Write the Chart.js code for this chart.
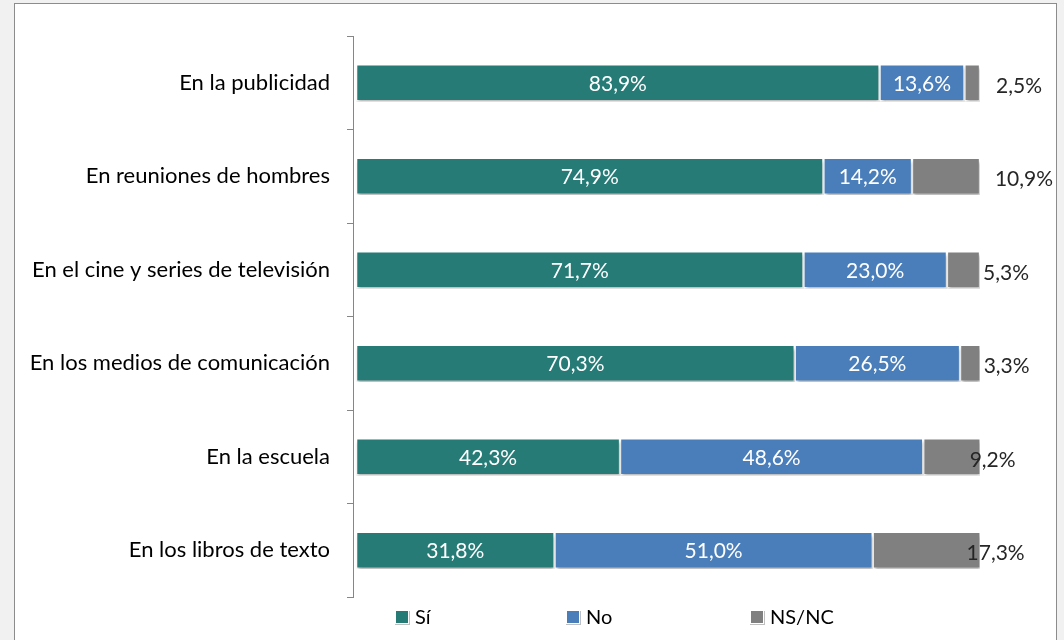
<!DOCTYPE html>
<html>
<head>
<meta charset="utf-8">
<script src="https://cdn.jsdelivr.net/npm/chart.js@4"></script>
<style>
  html, body { margin: 0; padding: 0; background: #f1f1f1; width: 1064px; height: 640px; overflow: hidden; }
  #frame { position: absolute; left: 14px; top: 3px; width: 1043px; height: 660px; background: #ffffff; border: 1px solid #8c8c8c; box-sizing: border-box; }
  #wrap { position: absolute; left: 0; top: 0; width: 1064px; height: 640px; }
</style>
</head>
<body>
<div id="frame"></div>
<div id="wrap"><canvas id="c" width="1064" height="640"></canvas></div>
<script>
const categories = [
  'En la publicidad',
  'En reuniones de hombres',
  'En el cine y series de televisión',
  'En los medios de comunicación',
  'En la escuela',
  'En los libros de texto'
];
const seriesNames = ['Sí', 'No', 'NS/NC'];
const si   = [83.9, 74.9, 71.7, 70.3, 42.3, 31.8];
const no   = [13.6, 14.2, 23.0, 26.5, 48.6, 51.0];
const nsnc = [2.5, 10.9, 5.3, 3.3, 9.2, 17.3];
const colors = ['#267b77', '#4a7ebb', '#808080'];

const FONT = 'Lato, Calibri, sans-serif';
const fmt = v => v.toFixed(1).replace('.', ',') + '%';

// per-row horizontal offset (px) of the outside NS/NC label centre from the bar end
const outsideOffsets = [39, 44, 26, 26, 12, 15];

const shadowPlugin = {
  id: 'barShadow',
  beforeDatasetsDraw(chart) {
    const ctx = chart.ctx;
    ctx.save();
    ctx.shadowColor = 'rgba(0,0,0,0.28)';
    ctx.shadowBlur = 3;
    ctx.shadowOffsetX = 1;
    ctx.shadowOffsetY = 3;
  },
  afterDatasetsDraw(chart) {
    chart.ctx.restore();
  }
};

const labelPlugin = {
  id: 'valueLabels',
  afterDatasetsDraw(chart) {
    const ctx = chart.ctx;
    ctx.save();
    ctx.font = '21px ' + FONT;
    ctx.textBaseline = 'middle';
    ctx.textAlign = 'center';
    chart.data.datasets.forEach((ds, di) => {
      const meta = chart.getDatasetMeta(di);
      meta.data.forEach((bar, i) => {
        const v = ds.data[i];
        const left = Math.min(bar.x, bar.base);
        const right = Math.max(bar.x, bar.base);
        if (di < 2) {
          ctx.fillStyle = '#ffffff';
          ctx.fillText(fmt(v), (left + right) / 2, bar.y + 1);
        } else {
          ctx.fillStyle = '#262626';
          ctx.fillText(fmt(v), right + outsideOffsets[i], bar.y + 3);
        }
      });
    });
    ctx.restore();
  }
};

const legendPlugin = {
  id: 'customLegend',
  afterDraw(chart) {
    const ctx = chart.ctx;
    const xs = [395, 566, 750];
    const y = 617;
    ctx.save();
    ctx.font = '20px ' + FONT;
    ctx.textBaseline = 'middle';
    ctx.textAlign = 'left';
    chart.data.datasets.forEach((ds, i) => {
      const x = xs[i];
      ctx.fillStyle = 'rgba(0,0,0,0.25)';
      ctx.fillRect(x, y - 6, 15, 14);
      ctx.fillStyle = ds.backgroundColor;
      ctx.fillRect(x, y - 7, 14, 14);
      ctx.strokeStyle = '#ffffff';
      ctx.lineWidth = 1;
      ctx.strokeRect(x + 0.5, y - 6.5, 13, 13);
      ctx.fillStyle = '#000000';
      ctx.fillText(ds.label, x + 20, y + 1);
    });
    ctx.restore();
  }
};

new Chart(document.getElementById('c'), {
  type: 'bar',
  data: {
    labels: categories,
    datasets: [si, no, nsnc].map((d, i) => ({
      label: seriesNames[i],
      data: d,
      backgroundColor: colors[i],
      borderColor: '#ffffff',
      borderWidth: 1.5,
      borderSkipped: false,
      barThickness: 37
    }))
  },
  options: {
    indexAxis: 'y',
    responsive: false,
    animation: false,
    layout: { padding: { left: 0, right: 84, top: 36, bottom: 43 } },
    plugins: {
      legend: { display: false },
      tooltip: { enabled: false }
    },
    scales: {
      x: {
        stacked: true,
        min: -0.5,
        max: 100,
        display: false
      },
      y: {
        stacked: true,
        afterFit(scale) { scale.width = 353; },
        border: { display: true, color: '#868686', width: 1 },
        grid: { display: true, drawOnChartArea: false, drawTicks: true, tickLength: 6, color: '#868686', offset: true },
        ticks: { color: '#000000', font: { family: FONT, size: 22 }, padding: 17 }
      }
    }
  },
  plugins: [shadowPlugin, labelPlugin, legendPlugin]
});
</script>
</body>
</html>
